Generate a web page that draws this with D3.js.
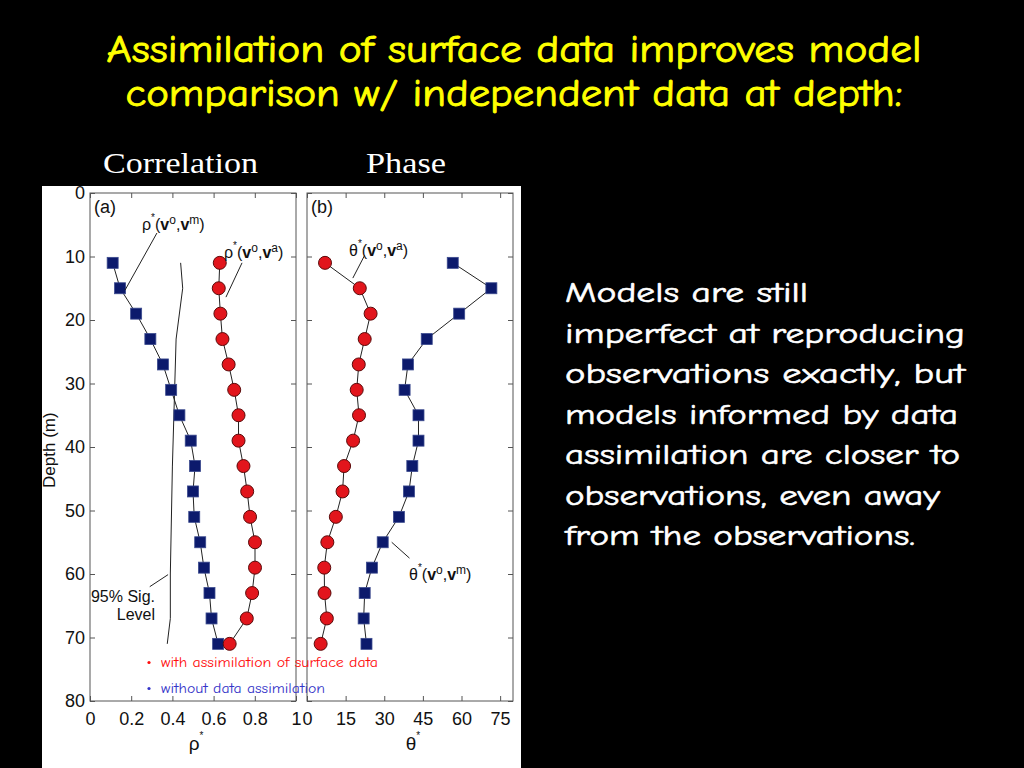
<!DOCTYPE html>
<html>
<head>
<meta charset="utf-8">
<script src="https://cdn.jsdelivr.net/npm/d3@7"></script>
<style>
html,body{margin:0;padding:0;background:#000;}
svg{display:block;}
</style>
</head>
<body>
<svg id="chart" width="1024" height="768"></svg>
<script>
// ---------- DATA ----------
const depths = [11,15,19,23,27,31,35,39,43,47,51,55,59,63,67,71];
const rhoNoAssim = [0.11,0.146,0.224,0.293,0.354,0.394,0.434,0.489,0.51,0.50,0.506,0.535,0.553,0.58,0.59,0.622];
const rhoAssim   = [0.63,0.625,0.633,0.643,0.673,0.70,0.721,0.721,0.745,0.763,0.777,0.801,0.801,0.787,0.761,0.678];
const thetaAssim   = [7.0,20.5,24.7,22.4,20.1,19.3,20.2,17.9,14.4,13.8,11.2,7.9,6.7,6.8,7.7,5.3];
const thetaNoAssim = [56.6,71.6,59.1,46.5,39.2,37.9,43.3,43.3,40.9,39.6,35.7,29.4,25.2,22.4,22.0,23.1];
const sigDepth = [11,15,23,43,60,67,71];
const sigRho   = [0.44,0.45,0.418,0.40,0.39,0.39,0.375];
const depthTicks = [0,10,20,30,40,50,60,70,80];
const rhoTicks = [0,0.2,0.4,0.6,0.8,1];
const rhoTickLabels = ["0","0.2","0.4","0.6","0.8","1"];
const thetaTicks = [0,15,30,45,60,75];
const titleLines = ["Assimilation of surface data improves model","comparison w/ independent data at depth:"];
const bodyLines = ["Models are still","imperfect at reproducing","observations exactly, but","models informed by data","assimilation are closer to","observations, even away","from the observations."];
const legendItems = ["with assimilation of surface data","without data assimilation"];
const panelHeaders = ["Correlation","Phase"];

// ---------- SETUP ----------
const svg = d3.select("#chart");
const comic = "'Comic Sans MS','Comic Neue','DejaVu Sans',sans-serif";
const helv = "'Liberation Sans',Arial,Helvetica,sans-serif";
const times = "'Liberation Serif','Times New Roman',serif";

svg.append("rect").attr("width",1024).attr("height",768).attr("fill","#000");

// title
const titleLen = [815, 777];
const titleY = [62, 106];
titleLines.forEach((t,i)=>{
  svg.append("text").attr("x",514).attr("y",titleY[i]).attr("text-anchor","middle")
    .attr("fill","#ffff00").attr("stroke","#ffff00").attr("stroke-width",0.9)
    .attr("font-family",comic).attr("font-size",39)
    .attr("textLength",titleLen[i]).attr("lengthAdjust","spacingAndGlyphs").text(t);
});

// panel headers
svg.append("text").attr("x",103).attr("y",173).attr("fill","#fff").attr("font-family",times)
  .attr("font-size",29).attr("textLength",155).attr("lengthAdjust","spacingAndGlyphs").text(panelHeaders[0]);
svg.append("text").attr("x",366).attr("y",173).attr("fill","#fff").attr("font-family",times)
  .attr("font-size",29).attr("textLength",80).attr("lengthAdjust","spacingAndGlyphs").text(panelHeaders[1]);

// body text
const bodyLen = [243,400,400,393,395,375,350];
bodyLines.forEach((t,i)=>{
  svg.append("text").attr("x",565).attr("y",302+i*40.5).attr("fill","#fff")
    .attr("stroke","#fff").attr("stroke-width",0.6)
    .attr("font-family",comic).attr("font-size",29)
    .attr("textLength",bodyLen[i]).attr("lengthAdjust","spacingAndGlyphs").text(t);
});

// white figure area
svg.append("rect").attr("x",42).attr("y",186).attr("width",479).attr("height",582).attr("fill","#fff");
const fig = svg.append("g");
fig.append("clipPath").attr("id","figclip").append("rect").attr("x",42).attr("y",186).attr("width",479).attr("height",582);
const g = fig.append("g").attr("clip-path","url(#figclip)");

// scales
const y = d3.scaleLinear().domain([0,80]).range([193,701]);
const xa = d3.scaleLinear().domain([0,1]).range([90,296]);
const xb = d3.scaleLinear().domain([0,80]).range([307,513]);

function styleAxis(sel, labels){
  sel.select(".domain").remove();
  sel.selectAll(".tick line").attr("stroke","#555").attr("stroke-width",1);
  sel.selectAll(".tick text").attr("fill","#111").attr("font-family",helv).attr("font-size",18);
  if(!labels) sel.selectAll(".tick text").remove();
}

function panel(x, xticks, xfmt, showYLabels){
  const [x0,x1] = x.range();
  const bot = g.append("g").attr("transform",`translate(0,${y(80)})`)
    .call(d3.axisBottom(x).tickValues(xticks).tickFormat(xfmt).tickSize(-5).tickPadding(11));
  styleAxis(bot,true);
  const top = g.append("g").attr("transform",`translate(0,${y(0)})`)
    .call(d3.axisTop(x).tickValues(xticks).tickSize(-5));
  styleAxis(top,false);
  const left = g.append("g").attr("transform",`translate(${x0},0)`)
    .call(d3.axisLeft(y).tickValues(depthTicks).tickSize(-5).tickPadding(5));
  styleAxis(left,showYLabels);
  const right = g.append("g").attr("transform",`translate(${x1},0)`)
    .call(d3.axisRight(y).tickValues(depthTicks).tickSize(-5));
  styleAxis(right,false);
  g.append("rect").attr("x",x0).attr("y",y(0)).attr("width",x1-x0).attr("height",y(80)-y(0))
    .attr("fill","none").attr("stroke","#555").attr("stroke-width",1);
}

panel(xa, rhoTicks, (d,i)=>rhoTickLabels[i], true);
panel(xb, thetaTicks, d3.format("d"), false);

// depth label
g.append("text").attr("transform",`translate(55,${y(40.5)}) rotate(-90)`).attr("text-anchor","middle")
  .attr("fill","#111").attr("font-family",helv).attr("font-size",17).text("Depth (m)");

// x axis labels rho*, theta*
function starLabel(x, sym){
  const t = g.append("text").attr("x",x).attr("y",750).attr("text-anchor","middle")
    .attr("fill","#111").attr("font-family",helv).attr("font-size",19);
  t.append("tspan").text(sym);
  t.append("tspan").attr("dy",-11).attr("font-size",10).text("*");
}
starLabel(xa(0.5)+3,"ρ");
starLabel(xb(40)+3,"θ");

// lines
const lineA = (xs, sc) => d3.line().x((d,i)=>sc(xs[i])).y(d=>y(d));
function series(sc, xs, shape){
  g.append("path").datum(depths).attr("d",lineA(xs,sc)).attr("fill","none")
    .attr("stroke","#222").attr("stroke-width",1);
  if(shape==="sq"){
    g.selectAll(null).data(depths).enter().append("rect")
      .attr("x",(d,i)=>sc(xs[i])-5.5).attr("y",d=>y(d)-5.5).attr("width",11).attr("height",11)
      .attr("fill","#0c1a6c").attr("stroke","#3b4a8e").attr("stroke-width",0.8);
  } else {
    g.selectAll(null).data(depths).enter().append("circle")
      .attr("cx",(d,i)=>sc(xs[i])).attr("cy",d=>y(d)).attr("r",6.5)
      .attr("fill","#e2151c").attr("stroke","#5a0a0a").attr("stroke-width",1);
  }
}
// sig line
g.append("path").datum(sigDepth).attr("d",d3.line().x((d,i)=>xa(sigRho[i])).y(d=>y(d)))
  .attr("fill","none").attr("stroke","#222").attr("stroke-width",1);

series(xa, rhoNoAssim, "sq");
series(xa, rhoAssim, "ci");
series(xb, thetaAssim, "ci");
series(xb, thetaNoAssim, "sq");

// annotations
function leader(sc, x1v, d1, x2v, d2){
  g.append("line").attr("x1",sc(x1v)).attr("y1",y(d1)).attr("x2",sc(x2v)).attr("y2",y(d2))
    .attr("stroke","#222").attr("stroke-width",1);
}
function richLabel(x, yy, sym, sup2){
  const t = g.append("text").attr("x",x).attr("y",yy).attr("fill","#111")
    .attr("font-family",helv).attr("font-size",16);
  t.append("tspan").text(sym);
  t.append("tspan").attr("dy",-9).attr("font-size",10).text("*");
  t.append("tspan").attr("dy",9).text("(");
  t.append("tspan").attr("font-weight","bold").text("v");
  t.append("tspan").attr("dy",-6).attr("font-size",12).text("o");
  t.append("tspan").attr("dy",6).text(",");
  t.append("tspan").attr("font-weight","bold").text("v");
  t.append("tspan").attr("dy",-6).attr("font-size",12).text(sup2);
  t.append("tspan").attr("dy",6).text(")");
}
g.append("text").attr("x",94).attr("y",213).attr("fill","#111").attr("font-family",helv).attr("font-size",18).text("(a)");
g.append("text").attr("x",311).attr("y",213).attr("fill","#111").attr("font-family",helv).attr("font-size",18).text("(b)");

richLabel(142, 230, "ρ", "m");
leader(xa, 0.325, 6.3, 0.17, 15.3);
richLabel(224, 258, "ρ", "a");
leader(xa, 0.738, 11.0, 0.66, 16.4);
richLabel(349, 256, "θ", "a");
leader(xb, 22.4, 9.8, 17.8, 13.4);
richLabel(409, 580, "θ", "m");
leader(xb, 39.8, 57.5, 32.9, 55.0);

g.append("text").attr("x",155).attr("y",602).attr("text-anchor","end").attr("fill","#111")
  .attr("font-family",helv).attr("font-size",16).text("95% Sig.");
g.append("text").attr("x",155).attr("y",620).attr("text-anchor","end").attr("fill","#111")
  .attr("font-family",helv).attr("font-size",16).text("Level");
leader(xa, 0.29, 62.0, 0.379, 60.1);

// legend
const legColors = ["#ff0d0d","#3434c8"];
const legY = [667, 693];
const legLen = [217, 164];
legendItems.forEach((t,i)=>{
  g.append("circle").attr("cx",149).attr("cy",legY[i]-4.5).attr("r",1.6).attr("fill",legColors[i]);
  g.append("text").attr("x",161).attr("y",legY[i]).attr("fill",legColors[i]).attr("font-family",comic)
    .attr("font-size",14).attr("textLength",legLen[i]).attr("lengthAdjust","spacingAndGlyphs").text(t);
});
</script>
</body>
</html>
